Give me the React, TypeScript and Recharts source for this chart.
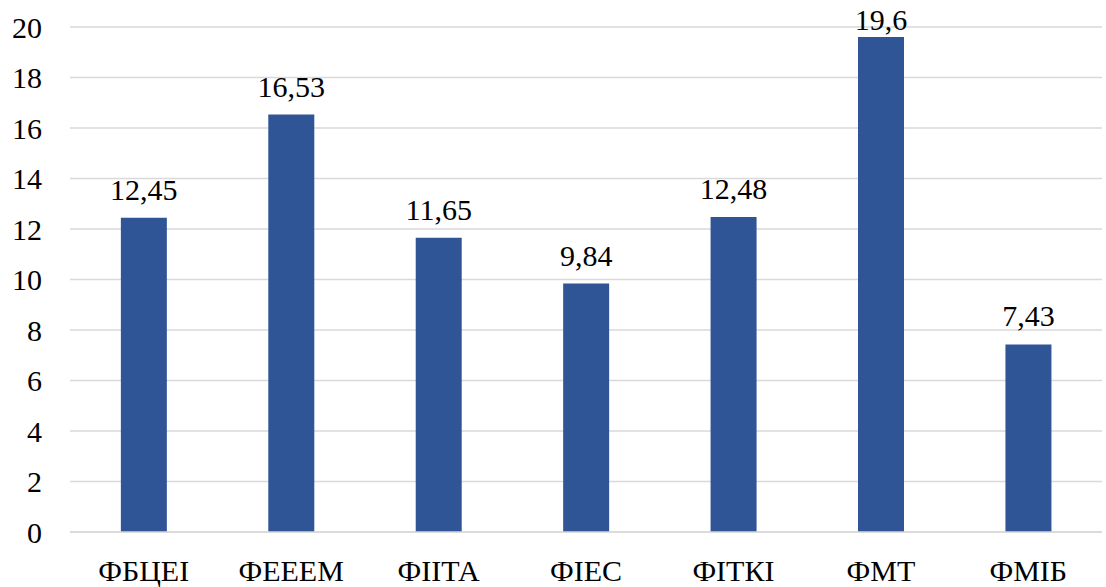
import React from "react";
import { BarChart, Bar, XAxis, YAxis, CartesianGrid, LabelList } from "recharts";

const categories = ["ФБЦЕІ", "ФЕЕЕМ", "ФІІТА", "ФІЕС", "ФІТКІ", "ФМТ", "ФМІБ"];
const values = [12.45, 16.53, 11.65, 9.84, 12.48, 19.6, 7.43];
const yTicks = [0, 2, 4, 6, 8, 10, 12, 14, 16, 18, 20];

const data = categories.map((name, i) => ({ name, value: values[i] }));

const FONT = "Times New Roman, Liberation Serif, Tinos, DejaVu Serif, serif";

const fmt = (v: number) => String(v).replace(".", ",");

const ValueLabel = (props: any) => {
  const { x, y, width, value } = props;
  const baseline = Math.max(Number(y) - 18, 30);
  return (
    <text
      x={Number(x) + Number(width) / 2}
      y={baseline}
      textAnchor="middle"
      fill="#000"
      fontSize={30}
      fontFamily={FONT}
    >
      {fmt(value)}
    </text>
  );
};

export default function App() {
  return (
    <div style={{ position: "absolute", left: 0, top: 0, background: "#fff", fontFamily: FONT }}>
      <BarChart
        width={1106}
        height={587}
        data={data}
        margin={{ top: 27, right: 4, bottom: 0, left: 0 }}
        barCategoryGap="34.5%"
        style={{ fontFamily: FONT }}
      >
        <CartesianGrid vertical={false} stroke="#D9D9D9" strokeWidth={1.5} />
        <XAxis
          dataKey="name"
          height={55}
          axisLine={{ stroke: "#D9D9D9", strokeWidth: 1.5 }}
          tickLine={false}
          tickSize={6}
          tickMargin={22}
          tick={{ fill: "#000", fontSize: 30, fontFamily: FONT }}
          interval={0}
        />
        <YAxis
          width={70}
          domain={[0, 20]}
          ticks={yTicks}
          axisLine={false}
          tickLine={false}
          tickSize={6}
          tickMargin={22}
          tick={{ fill: "#000", fontSize: 30, fontFamily: FONT }}
        />
        <Bar dataKey="value" fill="#2F5597" isAnimationActive={false}>
          <LabelList dataKey="value" content={ValueLabel} />
        </Bar>
      </BarChart>
    </div>
  );
}
